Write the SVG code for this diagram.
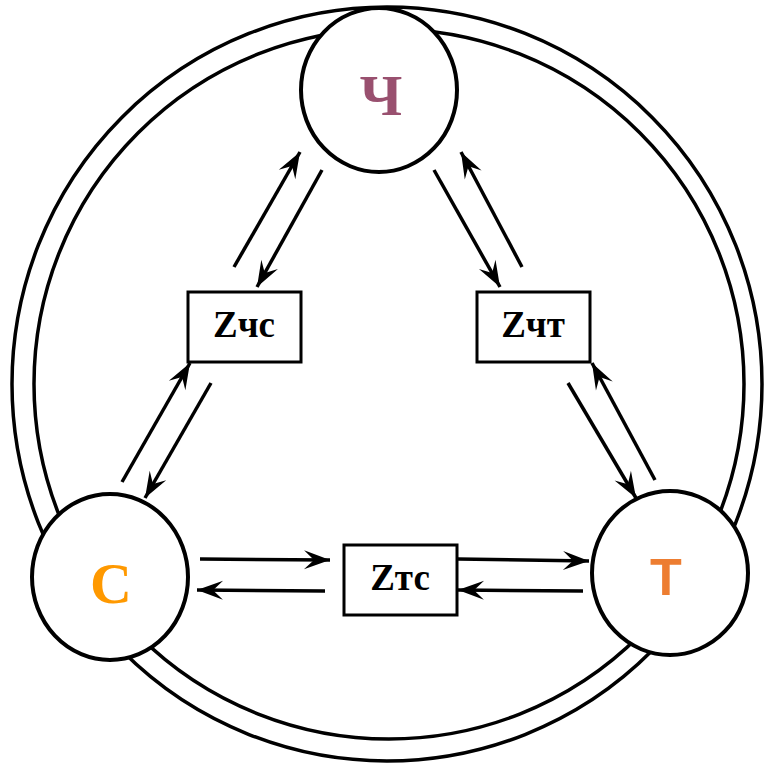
<svg xmlns="http://www.w3.org/2000/svg" width="764" height="766" viewBox="0 0 764 766">
<defs>
<style>
.ring{fill:none;stroke:#000;stroke-width:3.5}
.node{fill:#fff;stroke:#000;stroke-width:4}
.box{fill:#fff;stroke:#000;stroke-width:3}
.lbl{font-family:"Liberation Serif","Times New Roman","DejaVu Serif",serif;font-weight:bold;font-size:37px;text-anchor:middle;fill:#000}
.big{font-family:"Liberation Serif","Times New Roman","DejaVu Serif",serif;font-weight:bold;font-size:58px;text-anchor:middle}
.arr{stroke:#000;stroke-width:3.5;fill:none;marker-end:url(#ah)}
</style>
<marker id="ah" markerUnits="userSpaceOnUse" markerWidth="30" markerHeight="24" viewBox="-27 -12 30 24" refX="0" refY="0" orient="auto">
<path d="M0,0 L-26,-9.5 L-16,0 L-26,9.5 Z" fill="#000"/>
</marker>
</defs>
<rect width="764" height="766" fill="#fff"/>
<g id="rings">
<ellipse class="ring" cx="387" cy="384" rx="375" ry="377"/>
<ellipse class="ring" cx="389" cy="384" rx="355" ry="355"/>
</g>
<g id="connectors">
<line class="arr" x1="234" y1="267" x2="300" y2="152"/>
<line class="arr" x1="322" y1="170" x2="257" y2="287"/>
<line class="arr" x1="122" y1="482" x2="190" y2="363"/>
<line class="arr" x1="211" y1="383" x2="145" y2="498"/>
<line class="arr" x1="434" y1="170" x2="500" y2="287"/>
<line class="arr" x1="522" y1="267" x2="461" y2="152"/>
<line class="arr" x1="568" y1="383" x2="636" y2="498"/>
<line class="arr" x1="655" y1="480" x2="592" y2="363"/>
<line class="arr" x1="200" y1="559" x2="330" y2="560"/>
<line class="arr" x1="325" y1="591" x2="197" y2="590"/>
<line class="arr" x1="458" y1="559" x2="589" y2="561"/>
<line class="arr" x1="583" y1="591" x2="458" y2="590"/>
</g>
<g id="node-ch">
<ellipse class="node" cx="379" cy="90" rx="78" ry="82"/>
<text class="big" x="381" y="115" fill="#99506f">Ч</text>
</g>
<g id="node-s">
<ellipse class="node" cx="110" cy="577" rx="78" ry="83"/>
<text class="big" x="111" y="603" fill="#ff9900">С</text>
</g>
<g id="node-t">
<ellipse class="node" cx="670" cy="573" rx="78" ry="82"/>
<text x="666" y="595" font-family="Liberation Sans,Arial,sans-serif" font-weight="bold" font-size="52" text-anchor="middle" fill="#ed7d31">Т</text>
</g>
<g id="box-zchs">
<rect class="box" x="188" y="292" width="113" height="70"/>
<text class="lbl" x="244" y="337">Zчс</text>
</g>
<g id="box-zcht">
<rect class="box" x="477" y="292" width="113" height="70"/>
<text class="lbl" x="533" y="337">Zчт</text>
</g>
<g id="box-ztc">
<rect class="box" x="344" y="545" width="113" height="70"/>
<text class="lbl" x="400" y="590">Zтс</text>
</g>
</svg>
